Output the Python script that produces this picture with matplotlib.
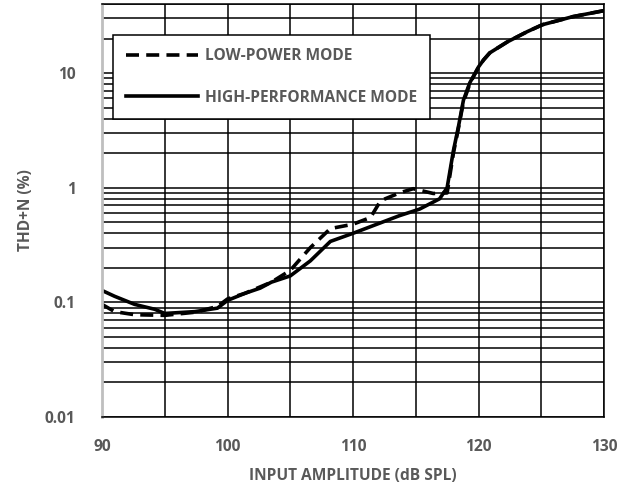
import matplotlib
matplotlib.use("Agg")
import matplotlib.pyplot as plt
from matplotlib.ticker import FixedLocator, LogLocator, NullFormatter, FixedFormatter

# Data
hp_x = [90, 91, 92.6, 94.2, 95, 97.4, 99.2, 100, 101.4, 102.6, 103.5, 105, 106.6,
        108.2, 110, 111.9, 113.7, 115.3, 116.9, 117.5, 118.0, 118.4, 118.8, 119.3,
        119.6, 120, 120.4, 120.9, 122.3, 123.9, 125.1, 127.5, 130]
hp_y = [0.127, 0.113, 0.096, 0.087, 0.080, 0.083, 0.089, 0.104, 0.12, 0.133, 0.15,
        0.17, 0.23, 0.34, 0.40, 0.48, 0.57, 0.65, 0.80, 1.0, 2.1, 3.4, 5.8, 8.2,
        9.4, 11.3, 13.0, 15, 18.7, 23, 26.4, 31, 35]
lp_x = [90, 91, 92.6, 95, 97.4, 99.2, 100, 101.4, 103.5, 105, 106.6, 108.2, 110,
        111.4, 112.2, 113.7, 114.8, 116.4, 117.5, 118.0, 118.4, 118.8, 119.3, 119.6,
        120, 120.4, 120.9, 122.3, 123.9, 125.1, 127.5, 130]
lp_y = [0.096, 0.083, 0.078, 0.077, 0.082, 0.092, 0.107, 0.12, 0.15, 0.19, 0.30,
        0.44, 0.48, 0.55, 0.77, 0.90, 0.98, 0.89, 0.90, 2.0, 3.3, 5.6, 8.0, 9.3, 11.2,
        13.0, 15, 18.7, 23, 26.4, 31, 35]
x_ticks = [90, 100, 110, 120, 130]
y_ticks = [0.01, 0.1, 1, 10]
y_tick_labels = ["0.01", "0.1", "1", "10"]
labels = ["LOW-POWER MODE", "HIGH-PERFORMANCE MODE"]

gray = "#595959"
plt.rcParams['font.family'] = ['Open Sans', 'DejaVu Sans']
plt.rcParams['font.weight'] = 'bold'
FS = 11.2

fig = plt.figure(figsize=(6.34, 4.87), dpi=100)
ax = fig.add_axes([102/634, 70/487, 502/634, 413/487])

ax.set_yscale('log')
ax.set_xlim(90, 130)
ax.set_ylim(0.01, 40)

ax.xaxis.set_major_locator(FixedLocator(x_ticks))
ax.xaxis.set_minor_locator(FixedLocator(list(range(95, 130, 10))))
ax.yaxis.set_major_locator(FixedLocator(y_ticks))
ax.yaxis.set_major_formatter(FixedFormatter(y_tick_labels))
ax.yaxis.set_minor_locator(LogLocator(base=10, subs=range(2, 10), numticks=20))
ax.yaxis.set_minor_formatter(NullFormatter())

ax.grid(True, which='both', axis='both', color='black', linewidth=1.1)
ax.set_axisbelow(True)
ax.tick_params(which='both', length=0)
ax.tick_params(axis='y', pad=19, labelsize=FS, labelcolor=gray)
ax.tick_params(axis='x', pad=16, labelsize=FS, labelcolor=gray)
for lab in ax.get_xticklabels() + ax.get_yticklabels():
    lab.set_fontweight('bold')

for s in ['top', 'right', 'bottom']:
    ax.spines[s].set_color('black')
    ax.spines[s].set_linewidth(1.1)
ax.spines['left'].set_color('#bfbfbf')
ax.spines['left'].set_linewidth(2)

ax.plot(lp_x, lp_y, color='black', lw=2.6, dashes=(3.6, 2), label=labels[0])
ax.plot(hp_x, hp_y, color='black', lw=2.6, label=labels[1])

ax.set_xlabel("INPUT AMPLITUDE (dB SPL)", color=gray, fontsize=FS, fontweight='bold', labelpad=9)
ax.set_ylabel("THD+N (%)", color=gray, fontsize=FS, fontweight='bold', labelpad=8)

leg = ax.legend(loc='upper left', bbox_to_anchor=(11/502, 1 - 31/413), fontsize=FS,
                frameon=True, fancybox=False, edgecolor='black', framealpha=1,
                borderpad=0.85, labelspacing=1.65, handlelength=4.6, handletextpad=0.45,
                borderaxespad=0)
leg.get_frame().set_linewidth(1.1)
for t in leg.get_texts():
    t.set_color(gray)
    t.set_fontweight('bold')

fig.savefig("out.png", dpi=100)
